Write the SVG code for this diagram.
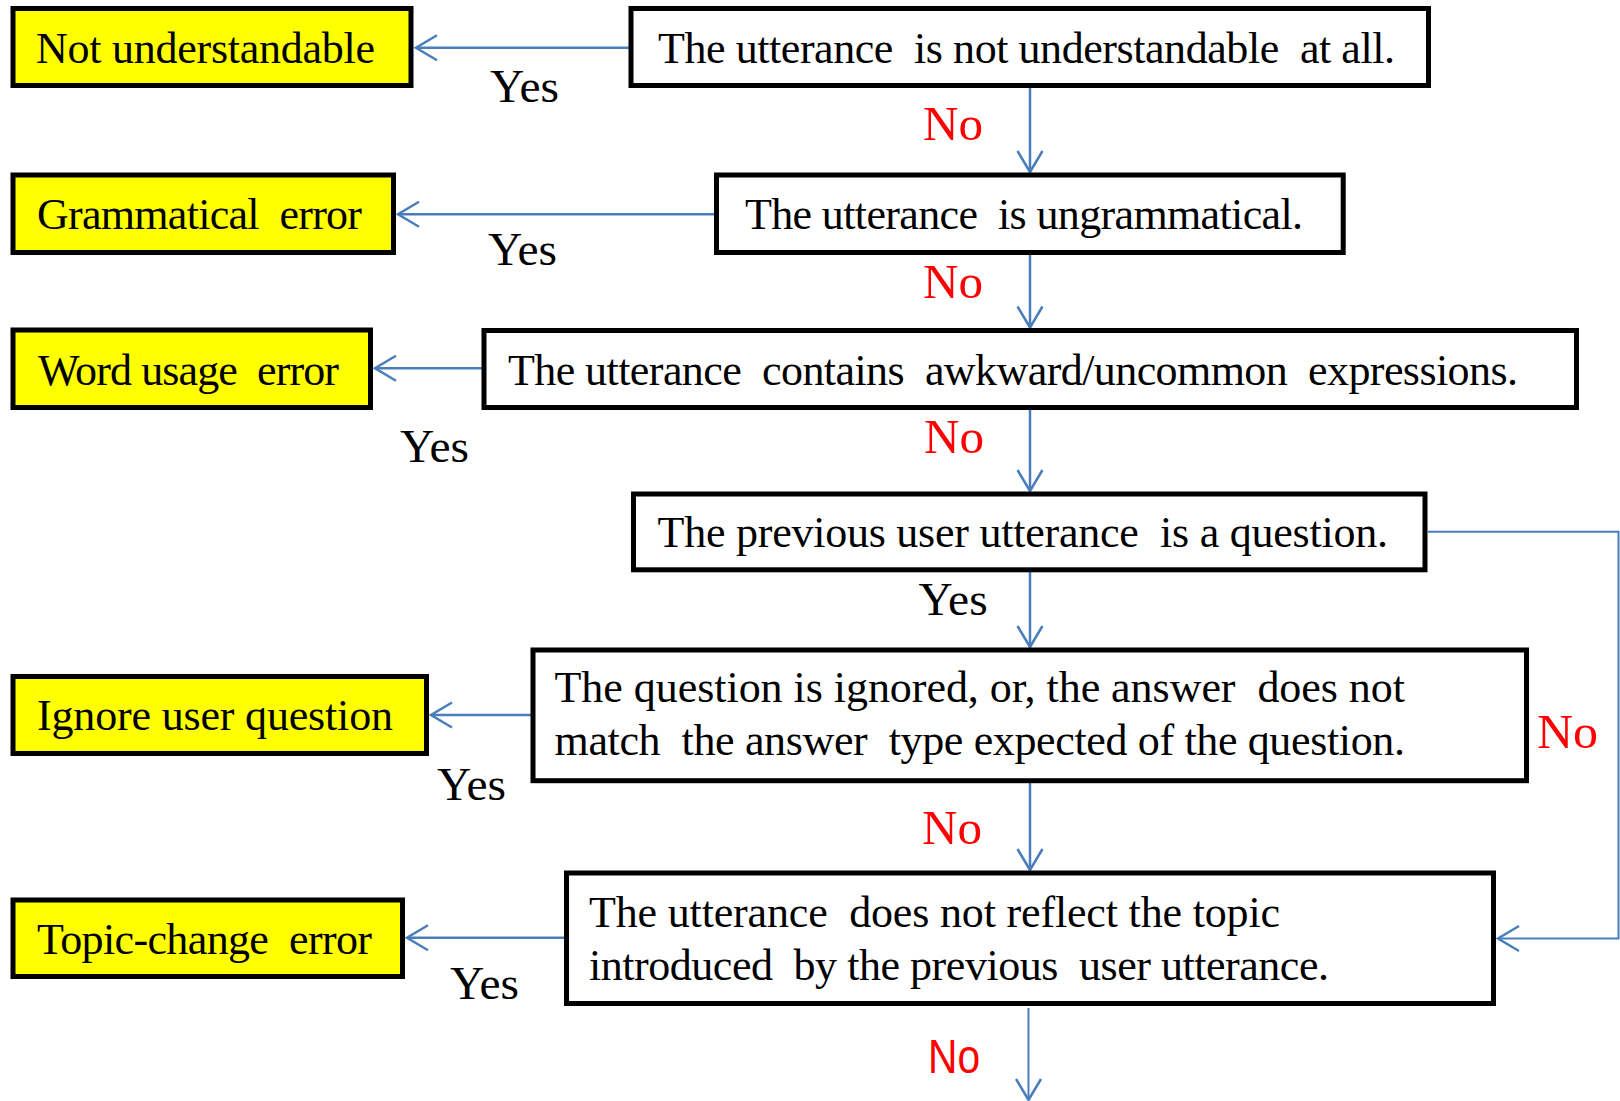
<svg xmlns="http://www.w3.org/2000/svg" width="1620" height="1101" viewBox="0 0 1620 1101">
  <style>
    .result rect { fill: #ffff00; stroke: #000; stroke-width: 5; }
    .decision rect { fill: #fff; stroke: #000; stroke-width: 5; }
    text { font-family: "Liberation Serif", "Times New Roman", serif; fill: #000; white-space: pre; }
    .lbl { font-size: 44px; }
    .yes { font-size: 46px; }
    .no { font-size: 48px; fill: #ff0000; }
    .no-sans { font-family: "Liberation Sans", Arial, sans-serif; font-size: 48px; fill: #ff0000; }
    .wire { fill: none; stroke: #4a7ebb; stroke-width: 2.5; }
    .wire.thin { stroke-width: 2; }
  </style>
  <defs>
    <marker id="vhead" markerUnits="userSpaceOnUse" markerWidth="30" markerHeight="30" viewBox="-24 -15 28 30" refX="0" refY="0" orient="auto">
      <path d="M -21 -12.5 L 0 0 L -21 12.5" fill="none" stroke="#4a7ebb" stroke-width="2.5"/>
    </marker>
  </defs>

  <rect x="0" y="0" width="1620" height="1101" fill="#fff"/>

  <!-- connectors -->
  <g id="connectors">
    <path class="wire" d="M 631 47.7 H 416" marker-end="url(#vhead)"/>
    <path class="wire" d="M 716.5 214.3 H 398" marker-end="url(#vhead)"/>
    <path class="wire" d="M 484 368.3 H 375" marker-end="url(#vhead)"/>
    <path class="wire" d="M 533 715 H 431" marker-end="url(#vhead)"/>
    <path class="wire" d="M 566 937.7 H 407" marker-end="url(#vhead)"/>

    <path class="wire" d="M 1030 88 V 172" marker-end="url(#vhead)"/>
    <path class="wire" d="M 1030 255 V 327.5" marker-end="url(#vhead)"/>
    <path class="wire" d="M 1030 410 V 491" marker-end="url(#vhead)"/>
    <path class="wire" d="M 1030 572 V 647" marker-end="url(#vhead)"/>
    <path class="wire" d="M 1030 783 V 870" marker-end="url(#vhead)"/>

    <path class="wire thin" d="M 1428 531.7 H 1618.5 V 938.5 H 1498" marker-end="url(#vhead)"/>
    <path class="wire thin" d="M 1028.5 1008 V 1100" marker-end="url(#vhead)"/>
  </g>

  <!-- outcome boxes -->
  <g id="not-understandable" class="result">
    <rect x="13" y="8.5" width="398" height="77"/>
    <text class="lbl" x="36" y="62.7" textLength="339" lengthAdjust="spacing">Not understandable</text>
  </g>
  <g id="grammatical-error" class="result">
    <rect x="13" y="175" width="380.5" height="77.5"/>
    <text class="lbl" xml:space="preserve" x="37" y="229" textLength="325" lengthAdjust="spacing">Grammatical  error</text>
  </g>
  <g id="word-usage-error" class="result">
    <rect x="13" y="330" width="357.5" height="77.5"/>
    <text class="lbl" xml:space="preserve" x="38" y="385" textLength="301" lengthAdjust="spacing">Word usage  error</text>
  </g>
  <g id="ignore-user-question" class="result">
    <rect x="13" y="676.5" width="413.5" height="77"/>
    <text class="lbl" x="37" y="730" textLength="356" lengthAdjust="spacing">Ignore user question</text>
  </g>
  <g id="topic-change-error" class="result">
    <rect x="13" y="900" width="389.5" height="76.5"/>
    <text class="lbl" xml:space="preserve" x="37" y="954" textLength="335" lengthAdjust="spacing">Topic-change  error</text>
  </g>

  <!-- decision boxes -->
  <g id="q-understandable" class="decision">
    <rect x="631" y="8.5" width="797.5" height="77"/>
    <text class="lbl" xml:space="preserve" x="658" y="62.7" textLength="737" lengthAdjust="spacing">The utterance  is not understandable  at all.</text>
  </g>
  <g id="q-grammatical" class="decision">
    <rect x="716.5" y="175" width="626.7" height="77.5"/>
    <text class="lbl" xml:space="preserve" x="745" y="229" textLength="558" lengthAdjust="spacing">The utterance  is ungrammatical.</text>
  </g>
  <g id="q-word-usage" class="decision">
    <rect x="484" y="330.5" width="1092.5" height="77"/>
    <text class="lbl" xml:space="preserve" x="508" y="385" textLength="1010" lengthAdjust="spacing">The utterance  contains  awkward/uncommon  expressions.</text>
  </g>
  <g id="q-previous-question" class="decision">
    <rect x="633.5" y="494" width="791.5" height="75.8"/>
    <text class="lbl" xml:space="preserve" x="657.5" y="546.7" textLength="730.5" lengthAdjust="spacing">The previous user utterance  is a question.</text>
  </g>
  <g id="q-answer-type" class="decision">
    <rect x="533" y="650" width="993.5" height="130.7"/>
    <text class="lbl" xml:space="preserve" x="554.5" y="701.7" textLength="850.5" lengthAdjust="spacing">The question is ignored, or, the answer  does not</text>
    <text class="lbl" xml:space="preserve" x="554.5" y="755" textLength="850.5" lengthAdjust="spacing">match  the answer  type expected of the question.</text>
  </g>
  <g id="q-topic" class="decision">
    <rect x="566.5" y="873" width="927" height="130.5"/>
    <text class="lbl" xml:space="preserve" x="589" y="926.7" textLength="691" lengthAdjust="spacing">The utterance  does not reflect the topic</text>
    <text class="lbl" xml:space="preserve" x="589" y="980" textLength="740" lengthAdjust="spacing">introduced  by the previous  user utterance.</text>
  </g>

  <!-- branch labels -->
  <g id="branch-labels">
    <text class="yes" x="490" y="101.5" textLength="69" lengthAdjust="spacingAndGlyphs">Yes</text>
    <text class="yes" x="488" y="265" textLength="69" lengthAdjust="spacingAndGlyphs">Yes</text>
    <text class="yes" x="400" y="462" textLength="69" lengthAdjust="spacingAndGlyphs">Yes</text>
    <text class="yes" x="918.6" y="615" textLength="69" lengthAdjust="spacingAndGlyphs">Yes</text>
    <text class="yes" x="437" y="800" textLength="69" lengthAdjust="spacingAndGlyphs">Yes</text>
    <text class="yes" x="450" y="999" textLength="69" lengthAdjust="spacingAndGlyphs">Yes</text>

    <text class="no" x="923" y="140" textLength="60" lengthAdjust="spacingAndGlyphs">No</text>
    <text class="no" x="923" y="298" textLength="60" lengthAdjust="spacingAndGlyphs">No</text>
    <text class="no" x="924" y="453" textLength="60" lengthAdjust="spacingAndGlyphs">No</text>
    <text class="no" x="1537" y="748" textLength="61" lengthAdjust="spacingAndGlyphs">No</text>
    <text class="no" x="922" y="844" textLength="60" lengthAdjust="spacingAndGlyphs">No</text>
    <text class="no-sans" x="928" y="1073" textLength="52" lengthAdjust="spacingAndGlyphs">No</text>
  </g>
</svg>
